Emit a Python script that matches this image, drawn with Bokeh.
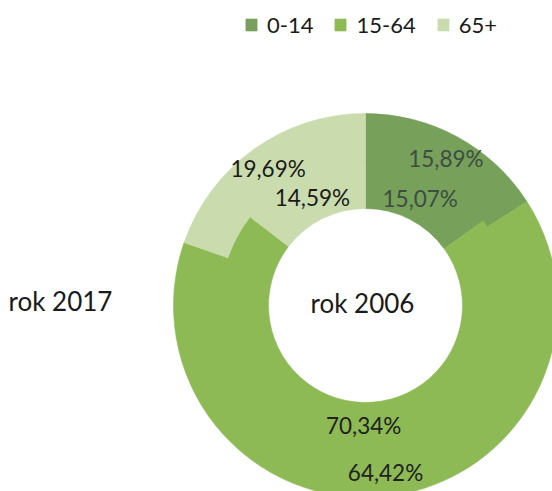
from bokeh.plotting import figure
from bokeh.models import Range1d, Legend, LegendItem, ColumnDataSource
from bokeh.core.properties import value
from bokeh.embed import file_html
from bokeh.resources import INLINE
import math

categories = ["0-14", "15-64", "65+"]
values_2006 = [15.07, 70.34, 14.59]
values_2017 = [15.89, 64.42, 19.69]
colors = ["#77a05b", "#8dba55", "#cadcae"]
label_colors = ["#3d4d42", "#222222", "#1a1a1a"]
year_inner = "rok 2006"
year_outer = "rok 2017"

FONT = value("Lato")
R_HOLE, R_MID, R_OUT = 97, 145, 192

def ring(vals, r_lab):
    total = sum(vals)
    starts, ends, lx, ly, txt = [], [], [], [], []
    cum = 0.0
    for v in vals:
        a0 = cum / total * 2 * math.pi
        cum += v
        a1 = cum / total * 2 * math.pi
        # clockwise from 12 o'clock -> bokeh anticlockwise angles
        starts.append(math.pi / 2 - a1)
        ends.append(math.pi / 2 - a0)
        mid = (a0 + a1) / 2
        lx.append(r_lab * math.sin(mid))
        ly.append(r_lab * math.cos(mid))
        txt.append(f"{v:.2f}".replace(".", ",") + "%")
    return dict(start=starts, end=ends, color=colors, lx=lx, ly=ly, txt=txt,
                tcolor=label_colors, cat=categories)

p = figure(width=552, height=491, output_backend="svg", toolbar_location=None,
           x_range=Range1d(-365, 187), y_range=Range1d(-186, 305),
           min_border=0)
p.axis.visible = False
p.grid.visible = False
p.outline_line_color = None
p.background_fill_color = "white"

src_in = ColumnDataSource(ring(values_2006, 120))
src_out = ColumnDataSource(ring(values_2017, 168))

# outer ring drawn first, slightly overlapping under the inner ring to avoid seams
r_out = p.annular_wedge(x=0, y=0, inner_radius=R_MID - 3, outer_radius=R_OUT,
                        start_angle="start", end_angle="end", fill_color="color",
                        line_color="color", line_width=0.6, source=src_out)
r_in = p.annular_wedge(x=0, y=0, inner_radius=R_HOLE, outer_radius=R_MID,
                       start_angle="start", end_angle="end", fill_color="color",
                       line_color="color", line_width=0.6, source=src_in)

for s in (src_in, src_out):
    p.text(x="lx", y="ly", text="txt", source=s, text_align="center",
           text_baseline="middle", text_font=FONT, text_font_size="22.5px",
           text_color="tcolor")

p.text(x=[-3], y=[3], text=[year_inner], text_align="center", text_baseline="middle",
       text_font=FONT, text_font_size="26px", text_color="#1a1a1a")
p.text(x=[-305], y=[5], text=[year_outer], text_align="center", text_baseline="middle",
       text_font=FONT, text_font_size="26px", text_color="#1a1a1a")

items = [LegendItem(label=c, renderers=[r_out], index=i) for i, c in enumerate(categories)]
legend = Legend(items=items, orientation="horizontal", location=(244, 453),
                label_text_font="Lato", label_text_font_size="22px",
                label_text_color="#1a1a1a",
                glyph_width=14, glyph_height=15, label_standoff=9, spacing=20,
                padding=0, margin=0, border_line_alpha=0, background_fill_alpha=0)
p.add_layout(legend)

open("out.html", "w").write(file_html(p, INLINE))
